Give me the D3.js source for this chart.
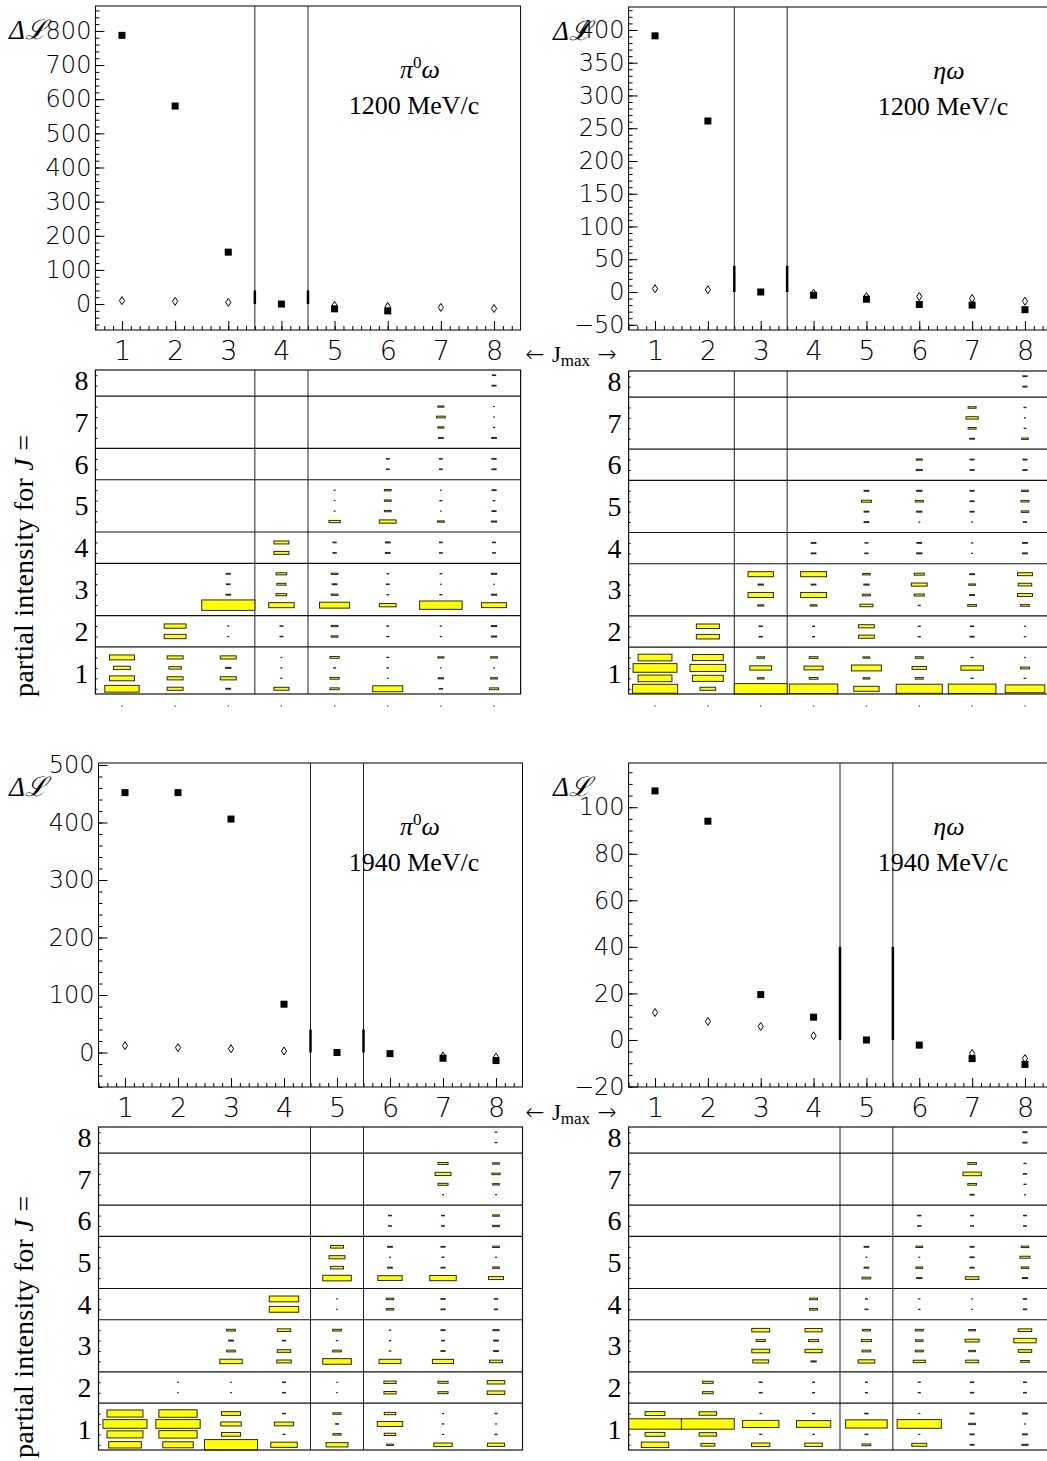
<!DOCTYPE html>
<html>
<head>
<meta charset="utf-8">
<script src="https://cdn.jsdelivr.net/npm/d3@7"></script>
<style>
body { margin: 0; background: #fff; }
</style>
</head>
<body>
<div id="chart"></div>
<script>
// J_max values on the x axis, J values on the box panels
var jmax = [1, 2, 3, 4, 5, 6, 7, 8];
var jValues = [1, 2, 3, 4, 5, 6, 7, 8];
var subCount = [4, 2, 4, 2, 4, 2, 4, 2];

// delta L, filled squares and open diamonds (null = not drawn)
var dLpi1200Sq = [787, 580, 152, 0, -14, -20, null, null];
var dLpi1200Di = [10, 8, 5, null, -4, -7, -10, -13];
var dLeta1200Sq = [391, 261, 0, -5, -11, -19, -20, -27];
var dLeta1200Di = [5, 3.5, null, -2, -7, -7, -10, -14];
var dLpi1940Sq = [452, 452, 406, 84, 0, -2, -10, -14];
var dLpi1940Di = [12, 8.5, 6.5, 2.5, null, null, -6, -8];
var dLeta1940Sq = [107, 94, 19.5, 9.8, 0, -2.2, -8, -10.5];
var dLeta1940Di = [11.8, 8, 5.8, 1.8, null, null, -5.8, -8];

// partial intensities (% of panel max), per J_max column, per J, per sub-wave
var boxPi1200 = [
  [[42, 22, 10, 22]],
  [[9, 9, 5.5, 9], [17, 17]],
  [[0.8, 9, 1, 9], [0.05, 0.05], [100, 0.8, 0.5, 0.6]],
  [[8, 0.05, 0.05, 0.03], [0.3, 0.3], [23, 4, 3, 4], [8, 8]],
  [[3, 3, 0.15, 3], [1.6, 1.6], [32, 1.6, 0.8, 1.6], [0.4, 0.4], [4.5, 0.04, 0.02, 0.04]],
  [[32, 0.03, 0.1, 0.1], [0.15, 0.15], [10, 0.1, 0.3, 0.1], [0.8, 0.8], [10, 1.6, 1.6, 1.6], [0.3, 0.3]],
  [[0.4, 1, 0.02, 1.3], [0.07, 0.07], [64, 0.15, 0.03, 0.1], [0.3, 0.3], [1.6, 0.02, 0.15, 0.03], [0.3, 0.3], [0.8, 1.3, 2.7, 1.3]],
  [[3, 1.6, 0.03, 1.6], [1, 1], [22, 1, 0.02, 1], [0.3, 0.3], [1, 0.6, 0.1, 0.6], [0.6, 0.6], [0.8, 0.07, 0.02, 0.02], [0.6, 0.4]]
];
var boxEta1200 = [
  [[73, 41, 69, 41]],
  [[8.6, 34, 46, 34], [19, 19]],
  [[100, 1.6, 17, 2], [0.4, 0.4], [1.3, 23, 1, 23]],
  [[84, 2.7, 13, 2.7], [0.15, 0.15], [1.6, 24, 0.8, 24], [0.8, 0.8]],
  [[23, 1.6, 32, 1.6], [9, 9], [6, 2.3, 1, 2], [0.4, 0.3], [0.8, 0.8, 3.6, 0.8]],
  [[76, 2.3, 7.5, 2.3], [0.15, 0.15], [0.15, 3.6, 9, 3.6], [1, 0.8], [0.04, 1, 2.3, 1], [1.3, 1.3]],
  [[81, 0.15, 18, 0.15], [0.6, 0.4], [2.7, 0.8, 1.6, 0.8], [0.04, 0.07], [0.04, 0.6, 0.6, 0.6], [0.6, 0.6], [0.8, 2.3, 5.3, 2.3]],
  [[56, 0.1, 3, 0.04], [0.07, 0.04], [2.7, 8, 6.5, 8], [0.8, 0.8], [0.4, 2, 2.3, 1.6], [0.6, 0.6], [1.6, 0.1, 0.04, 0.15], [0.6, 0.6]]
];
var boxPi1940 = [
  [[38, 46, 69, 46]],
  [[33, 52, 70, 52], [0.02, 0.02]],
  [[100, 13, 15, 13], [0.03, 0.03], [18, 2.7, 0.8, 2.7]],
  [[25, 0.15, 13, 0.3], [0.3, 0.3], [7.5, 6.5, 0.4, 6.5], [31, 31]],
  [[17, 2.3, 0.3, 2.3], [0.02, 0.02], [29, 2.7, 0.07, 2.7], [0.02, 0.02], [29, 6, 9, 6]],
  [[1.6, 4.7, 23, 4.7], [5.3, 5.3], [17, 0.1, 0.07, 0.07], [2, 2], [21, 0.8, 0.04, 0.8], [0.3, 0.3]],
  [[12, 0.04, 0.1, 0.04], [3.6, 3.6], [16, 0.6, 0.3, 0.6], [0.6, 0.6], [25, 0.6, 0.15, 0.6], [0.3, 0.3], [0.04, 3.6, 9, 3.6]],
  [[10.5, 0.15, 0.04, 0.15], [11, 11], [6, 0.8, 0.8, 1.3], [0.4, 0.4], [8, 1.6, 0.04, 1.6], [1.6, 1.6], [0.04, 1.6, 2.3, 1.6], [0.1, 0.1]]
];
var boxEta1940 = [
  [[27, 14, 100, 14]],
  [[7, 11, 100, 11], [4, 4]],
  [[12, 0.15, 47, 0.07], [0.3, 0.3], [9, 11.5, 3, 11.5]],
  [[11, 0.1, 42, 0.15], [0.15, 0.15], [1, 10.5, 3.6, 10.5], [2.3, 2.3]],
  [[2.7, 0.3, 62, 0.4], [0.15, 0.15], [10, 2.7, 3.6, 2.3], [0.3, 0.15], [2.7, 0.8, 0.04, 0.8]],
  [[8, 0.04, 70, 0.04], [0.15, 0.15], [5.3, 2.3, 2, 2.3], [0.07, 0.07], [1, 1.6, 0.04, 1.6], [0.4, 0.4]],
  [[0.6, 0.6, 1.6, 0.6], [0.4, 0.4], [6, 1.6, 7, 1.6], [0.03, 0.03], [6.5, 0.6, 0.6, 0.6], [0.3, 0.3], [0.6, 2.7, 12, 2.7]],
  [[1.3, 0.8, 0.04, 0.8], [0.3, 0.3], [2.7, 6.5, 18, 6.5], [0.4, 0.4], [1, 2, 3.6, 2], [0.3, 0.3], [0.04, 0.15, 0.4, 0.15], [0.6, 0.6]]
];

var serif = '"Liberation Serif", "DejaVu Serif", serif';
var sans = '"DejaVu Sans", sans-serif';

var svg = d3.select('#chart').append('svg')
    .attr('width', 1047)
    .attr('height', 1461);

// layout of the four panels
var panels = [
  { x0: 95.4, x1: 520.6, sy0: 6, sy1: 330, dom: [-76, 873], ticks: d3.range(0, 801, 100), minor: 20,
    by0: 370, by1: 694, sep: [3.5, 4.5], ch: 'pi', mom: '1200', tx: 414, dlx: 9,
    sq: dLpi1200Sq, di: dLpi1200Di, box: boxPi1200 },
  { x0: 628.6, x1: 1051.4, sy0: 7, sy1: 330, dom: [-58, 435], ticks: d3.range(-50, 401, 50), minor: 10,
    by0: 371, by1: 694, sep: [2.5, 3.5], ch: 'eta', mom: '1200', tx: 943, dlx: 553,
    sq: dLeta1200Sq, di: dLeta1200Di, box: boxEta1200 },
  { x0: 98.5, x1: 522.5, sy0: 763, sy1: 1087, dom: [-60, 503.5], ticks: d3.range(0, 501, 100), minor: 20,
    by0: 1127, by1: 1450, sep: [4.5, 5.5], ch: 'pi', mom: '1940', tx: 414, dlx: 9,
    sq: dLpi1940Sq, di: dLpi1940Di, box: boxPi1940 },
  { x0: 628.6, x1: 1051.4, sy0: 763, sy1: 1087, dom: [-20.2, 119], ticks: d3.range(-20, 101, 20), minor: 5,
    by0: 1127, by1: 1450, sep: [4.5, 5.5], ch: 'eta', mom: '1940', tx: 943, dlx: 553,
    sq: dLeta1940Sq, di: dLeta1940Di, box: boxEta1940 }
];

var subStart = [];
subCount.reduce(function (acc, n) { subStart.push(acc + 1); return acc + n + 1; }, -0.5);
var bandMid = subStart.map(function (s, i) { return s + (subCount[i] - 1) / 2; });
var bandEdge = subStart.slice(1).map(function (s) { return s - 1; });
var boxScale = d3.scaleSqrt().domain([0, 100]).range([0, 1]);

function cleanAxis(sel) {
  sel.select('.domain').remove();
  sel.selectAll('.tick line').attr('stroke', '#000');
}

function drawPanel(p) {
  var x = d3.scaleLinear().domain([0.5, 8.5]).range([p.x0, p.x1]);
  var y = d3.scaleLinear().domain(p.dom).range([p.sy1, p.sy0]);
  var g = svg.append('g');

  // ---- delta L panel
  g.append('g')
      .attr('transform', 'translate(' + p.x0 + ',0)')
      .call(d3.axisLeft(y).tickValues(d3.range(Math.ceil(p.dom[0] / p.minor) * p.minor, p.dom[1], p.minor))
        .tickSize(-4).tickFormat(''))
      .call(cleanAxis);
  var ya = g.append('g')
      .attr('transform', 'translate(' + p.x0 + ',0)')
      .call(d3.axisLeft(y).tickValues(p.ticks).tickSize(-9).tickPadding(4).tickFormat(d3.format('d')))
      .call(cleanAxis);
  ya.selectAll('text')
      .style('font-family', sans).style('font-size', '24px').style('font-weight', 200)
      .attr('fill', '#000');

  g.append('g')
      .attr('transform', 'translate(0,' + p.sy1 + ')')
      .call(d3.axisBottom(x).tickValues(d3.range(0.5, 8.5, 1 / 6)).tickSize(-4).tickFormat(''))
      .call(cleanAxis);
  var xa = g.append('g')
      .attr('transform', 'translate(0,' + p.sy1 + ')')
      .call(d3.axisBottom(x).tickValues(jmax).tickSize(-9).tickPadding(11))
      .call(cleanAxis);
  xa.selectAll('text')
      .style('font-family', sans).style('font-size', '27px').style('font-weight', 200)
      .attr('fill', '#000');

  g.append('rect')
      .attr('x', p.x0).attr('y', p.sy0)
      .attr('width', p.x1 - p.x0).attr('height', p.sy1 - p.sy0)
      .attr('fill', 'none').attr('stroke', '#000').attr('stroke-width', 1);

  g.selectAll('line.sep')
      .data(p.sep).enter().append('line')
      .attr('x1', function (d) { return x(d); }).attr('x2', function (d) { return x(d); })
      .attr('y1', p.sy0).attr('y2', p.sy1)
      .attr('stroke', '#222').attr('stroke-width', 1);
  g.selectAll('line.thick')
      .data(p.sep).enter().append('line')
      .attr('x1', function (d) { return x(d); }).attr('x2', function (d) { return x(d); })
      .attr('y1', y(0)).attr('y2', y(40))
      .attr('stroke', '#000').attr('stroke-width', 2.5);

  var di = jmax.map(function (j, i) { return { j: j, v: p.di[i] }; }).filter(function (d) { return d.v !== null; });
  var sq = jmax.map(function (j, i) { return { j: j, v: p.sq[i] }; }).filter(function (d) { return d.v !== null; });

  g.selectAll('path.di')
      .data(di).enter().append('path')
      .attr('d', 'M0,-4L2.6,0L0,4L-2.6,0Z')
      .attr('transform', function (d) { return 'translate(' + x(d.j) + ',' + y(d.v) + ')'; })
      .attr('fill', '#fff').attr('stroke', '#000').attr('stroke-width', 1);
  g.selectAll('rect.sq')
      .data(sq).enter().append('rect')
      .attr('x', function (d) { return x(d.j) - 3.5; })
      .attr('y', function (d) { return y(d.v) - 3.5; })
      .attr('width', 7).attr('height', 7)
      .attr('fill', '#000');

  // delta L label
  g.append('text')
      .attr('x', p.dlx).attr('y', p.sy0 + 33)
      .style('font-family', serif).style('font-size', '27px').style('font-style', 'italic')
      .text('Δℒ');

  // channel and momentum
  var ct = g.append('text')
      .attr('x', p.tx + 6).attr('y', p.sy0 + 72)
      .attr('text-anchor', 'middle')
      .style('font-family', serif).style('font-size', '26px');
  if (p.ch === 'pi') {
    ct.append('tspan').style('font-style', 'italic').text('π');
    ct.append('tspan').attr('dy', -10).style('font-size', '17px').text('0');
    ct.append('tspan').attr('dy', 10).style('font-style', 'italic').text('ω');
  } else {
    ct.append('tspan').style('font-style', 'italic').text('ηω');
  }
  g.append('text')
      .attr('x', p.tx).attr('y', p.sy0 + 108)
      .attr('text-anchor', 'middle')
      .style('font-family', serif).style('font-size', '26px')
      .text(p.mom + ' MeV/c');

  // ---- partial intensity panel
  var yb = d3.scaleLinear().domain([0, 31]).range([p.by1, p.by0]);
  var cw = x(2) - x(1);
  var chh = yb(0) - yb(1);

  var cells = [];
  p.box.forEach(function (col, c) {
    col.forEach(function (vals, jj) {
      vals.forEach(function (v, k) {
        cells.push({ col: jmax[c], pos: subStart[jj] + k, v: v });
      });
    });
  });

  var subTicks = [];
  subStart.forEach(function (s, i) { d3.range(subCount[i]).forEach(function (k) { subTicks.push(s + k); }); });
  g.append('g')
      .attr('transform', 'translate(' + p.x0 + ',0)')
      .call(d3.axisLeft(yb).tickValues(subTicks).tickSize(-2).tickFormat(''))
      .call(cleanAxis);
  var yba = g.append('g')
      .attr('transform', 'translate(' + p.x0 + ',0)')
      .call(d3.axisLeft(yb).tickValues(bandMid).tickSize(0).tickPadding(7)
        .tickFormat(function (d, i) { return jValues[i]; }))
      .call(cleanAxis);
  yba.selectAll('text')
      .style('font-family', serif).style('font-size', '28px')
      .attr('fill', '#000');

  g.selectAll('line.band')
      .data(bandEdge).enter().append('line')
      .attr('x1', p.x0).attr('x2', p.x1)
      .attr('y1', function (d) { return yb(d); }).attr('y2', function (d) { return yb(d); })
      .attr('stroke', '#111').attr('stroke-width', 1.2);
  g.selectAll('line.bsep')
      .data(p.sep).enter().append('line')
      .attr('x1', function (d) { return x(d); }).attr('x2', function (d) { return x(d); })
      .attr('y1', p.by0).attr('y2', p.by1)
      .attr('stroke', '#222').attr('stroke-width', 1);

  g.selectAll('rect.box')
      .data(cells).enter().append('rect')
      .attr('x', function (d) { return x(d.col) - boxScale(d.v) * cw / 2; })
      .attr('y', function (d) { return yb(d.pos) - boxScale(d.v) * chh / 2; })
      .attr('width', function (d) { return boxScale(d.v) * cw; })
      .attr('height', function (d) { return boxScale(d.v) * chh; })
      .attr('fill', '#ffff00').attr('stroke', '#2a2a18').attr('stroke-width', 1);

  g.append('rect')
      .attr('x', p.x0).attr('y', p.by0)
      .attr('width', p.x1 - p.x0).attr('height', p.by1 - p.by0)
      .attr('fill', 'none').attr('stroke', '#111').attr('stroke-width', 1.2);

  g.selectAll('circle.dot')
      .data(jmax).enter().append('circle')
      .attr('cx', function (d) { return x(d); }).attr('cy', p.by1 + 12)
      .attr('r', 0.8).attr('fill', '#444');
}

panels.forEach(drawPanel);

// shared labels
[353, 1111].forEach(function (yy) {
  var t = svg.append('text')
      .attr('x', 571).attr('y', yy + 9)
      .attr('text-anchor', 'middle')
      .style('font-family', serif).style('font-size', '23px');
  t.append('tspan').style('font-family', sans).style('font-weight', 200).text('← ');
  t.append('tspan').text('J');
  t.append('tspan').attr('dy', 4).style('font-size', '17px').text('max');
  t.append('tspan').attr('dy', -4).style('font-family', sans).style('font-weight', 200).text(' →');
});

[566, 1327].forEach(function (yy) {
  var t = svg.append('text')
      .attr('transform', 'translate(33,' + yy + ') rotate(-90)')
      .attr('text-anchor', 'middle')
      .attr('textLength', 262).attr('lengthAdjust', 'spacing')
      .style('font-family', serif).style('font-size', '28px');
  t.append('tspan').text('partial intensity for ');
  t.append('tspan').style('font-style', 'italic').text('J');
  t.append('tspan').text(' =');
});
</script>
</body>
</html>
